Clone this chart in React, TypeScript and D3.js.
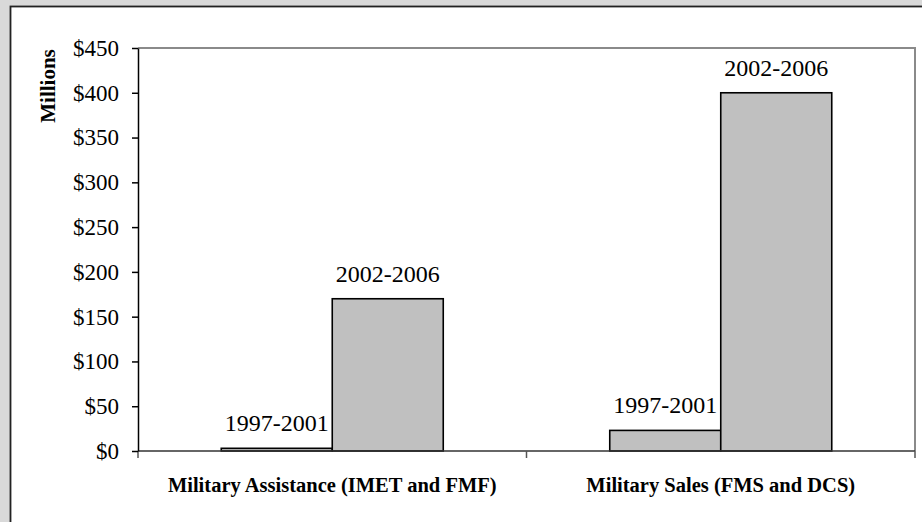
import React, { useEffect, useRef } from 'react';
import * as d3 from 'd3';

const categories = ['Military Assistance (IMET and FMF)', 'Military Sales (FMS and DCS)'];
const periods = ['1997-2001', '2002-2006'];
const assistanceValues = [3, 170];
const salesValues = [23, 400];
const yTicks = [0, 50, 100, 150, 200, 250, 300, 350, 400, 450];

type Bar = { category: string; period: string; value: number };

export default function App() {
  const svgRef = useRef<SVGSVGElement | null>(null);

  useEffect(() => {
    if (!svgRef.current) return;
    const svg = d3.select(svgRef.current);
    svg.selectAll('*').remove();

    const width = 922;
    const height = 522;
    const margin = { top: 48, right: 7, bottom: 71, left: 138 };
    const font = "'Liberation Serif', serif";

    const bars: Bar[] = [
      ...periods.map((p, i) => ({ category: categories[0], period: p, value: assistanceValues[i] })),
      ...periods.map((p, i) => ({ category: categories[1], period: p, value: salesValues[i] })),
    ];

    // Background and panel
    svg.append('rect').attr('width', width).attr('height', height).attr('fill', '#d9d9d9');
    svg.append('rect')
      .attr('x', 10.5).attr('y', 6.5)
      .attr('width', width).attr('height', height)
      .attr('fill', 'white').attr('stroke', '#222').attr('stroke-width', 1.8);

    // Scales
    const x0 = d3.scaleBand<string>()
      .domain(categories)
      .range([margin.left, width - margin.right]);

    const x1 = d3.scaleBand<string>()
      .domain(periods)
      .range([0, x0.bandwidth()])
      .paddingInner(0)
      .paddingOuter(0.75);

    const y = d3.scaleLinear()
      .domain([0, 450])
      .range([height - margin.bottom, margin.top]);

    const plotRight = width - margin.right;
    const plotBottom = height - margin.bottom;

    // Plot area border (top + right)
    svg.append('path')
      .attr('d', `M${margin.left},${margin.top}H${plotRight}V${plotBottom}`)
      .attr('fill', 'none').attr('stroke', '#8a8a8a').attr('stroke-width', 2);

    // Bars
    svg.append('g')
      .selectAll('rect')
      .data(bars)
      .join('rect')
      .attr('x', d => (x0(d.category) ?? 0) + (x1(d.period) ?? 0))
      .attr('y', d => y(d.value))
      .attr('width', x1.bandwidth())
      .attr('height', d => plotBottom - y(d.value))
      .attr('fill', '#c0c0c0')
      .attr('stroke', '#000')
      .attr('stroke-width', 1.6);

    // Bar labels
    svg.append('g')
      .style('font-family', font)
      .style('font-size', '24px')
      .attr('text-anchor', 'middle')
      .selectAll('text')
      .data(bars)
      .join('text')
      .attr('x', d => (x0(d.category) ?? 0) + (x1(d.period) ?? 0) + x1.bandwidth() / 2)
      .attr('y', d => y(d.value) - 17)
      .attr('fill', '#000')
      .text(d => d.period);

    // X axis
    const xAxis = svg.append('g');
    xAxis.append('line')
      .attr('x1', margin.left).attr('x2', plotRight)
      .attr('y1', plotBottom).attr('y2', plotBottom)
      .attr('stroke', '#333').attr('stroke-width', 1.5);
    xAxis.selectAll('line.tick')
      .data([...categories.map(c => x0(c) ?? 0), plotRight])
      .join('line')
      .attr('class', 'tick')
      .attr('x1', d => d).attr('x2', d => d)
      .attr('y1', plotBottom).attr('y2', plotBottom + 7)
      .attr('stroke', '#555').attr('stroke-width', 1.5);
    xAxis.selectAll('text')
      .data(categories)
      .join('text')
      .attr('x', d => (x0(d) ?? 0) + x0.bandwidth() / 2)
      .attr('y', 492)
      .attr('text-anchor', 'middle')
      .style('font-family', font)
      .style('font-size', '20.5px')
      .style('font-weight', 'bold')
      .text(d => d);

    // Y axis
    const yAxis = svg.append('g')
      .attr('transform', `translate(${margin.left},0)`)
      .call(d3.axisLeft(y).tickValues(yTicks).tickSize(6).tickSizeOuter(0).tickFormat(d => `$${d}`));
    yAxis.select('.domain').attr('stroke', '#000').attr('stroke-width', 1.5);
    yAxis.selectAll('.tick line').attr('stroke', '#000').attr('stroke-width', 1.5);
    yAxis.selectAll('.tick text')
      .style('font-family', font)
      .style('font-size', '23px')
      .attr('fill', '#000')
      .attr('x', -19);

    svg.append('text')
      .attr('transform', `translate(55,86) rotate(-90)`)
      .attr('text-anchor', 'middle')
      .style('font-family', font)
      .style('font-size', '21px')
      .style('font-weight', 'bold')
      .text('Millions');
  }, []);

  return (
    <svg
      ref={svgRef}
      width={922}
      height={522}
      style={{ position: 'fixed', top: 0, left: 0, display: 'block' }}
    />
  );
}
